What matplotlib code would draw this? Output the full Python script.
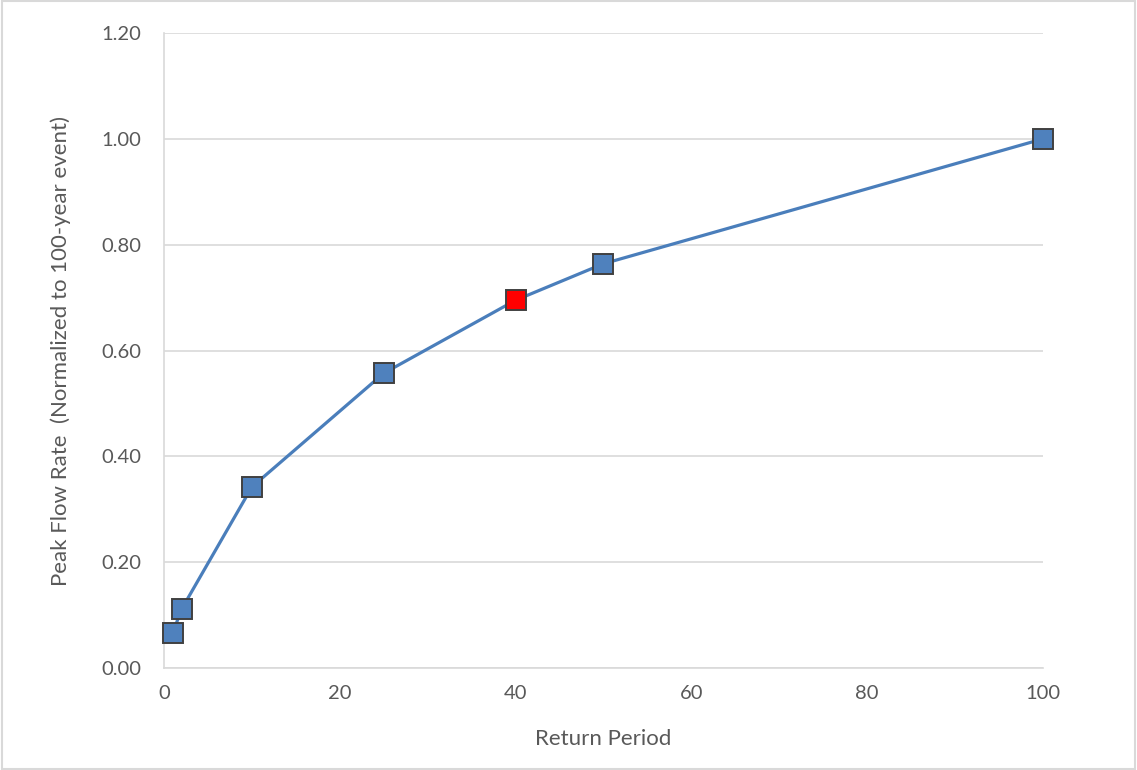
import matplotlib
matplotlib.use('Agg')
import matplotlib.pyplot as plt
from matplotlib.patches import Rectangle

# return period (years) vs peak flow normalised to the 100-year event
return_period = [1, 2, 10, 25, 40, 50, 100]
peak_flow     = [0.066, 0.111, 0.342, 0.557, 0.695, 0.764, 1.0]
highlight_rp  = 40

x_ticks = [0, 20, 40, 60, 80, 100]
y_ticks = [0.0, 0.2, 0.4, 0.6, 0.8, 1.0, 1.2]

LINE_C   = '#4a7ebb'
FACE_C   = '#4f81bd'
EDGE_C   = '#404040'
TEXT_C   = '#595959'
GRID_C   = '#d9d9d9'

plt.rcParams['font.family'] = ['Lato', 'DejaVu Sans']

fig = plt.figure(figsize=(11.37, 7.70), dpi=100)
ax = fig.add_axes([0.1442, 0.1325, 0.7731, 0.8246])

# outer chart border
fig.patches.append(Rectangle((0.002, 0.001), 0.996, 0.998, transform=fig.transFigure,
                             fill=False, edgecolor='#d9d9d9', lw=1.5))

ax.plot(return_period, peak_flow, color=LINE_C, lw=2.3, zorder=2)
for rp, q in zip(return_period, peak_flow):
    face = '#ff0000' if rp == highlight_rp else FACE_C
    ax.plot(rp, q, ls='none', marker='s', ms=14.5, mfc=face,
            mec=EDGE_C, mew=1.4, zorder=3, clip_on=False)

ax.set_xlim(0, 100)
ax.set_ylim(0, 1.2)
ax.set_xticks(x_ticks)
ax.set_yticks(y_ticks)
ax.set_yticklabels([f"{v:.2f}" for v in y_ticks])
ax.tick_params(length=0, labelsize=14.5, labelcolor=TEXT_C, pad=12)
ax.tick_params(axis='y', pad=16)

ax.grid(axis='y', color=GRID_C, lw=1.2)
ax.set_axisbelow(True)
for s in ('top', 'right'):
    ax.spines[s].set_visible(False)
for s in ('left', 'bottom'):
    ax.spines[s].set_color(GRID_C)
    ax.spines[s].set_linewidth(1.2)

ax.set_xlabel("Return Period", fontsize=16, color=TEXT_C, labelpad=20)
ax.set_ylabel("Peak Flow Rate  (Normalized to 100-year event)",
              fontsize=16, color=TEXT_C, labelpad=22)

fig.savefig('out.png', dpi=100)
